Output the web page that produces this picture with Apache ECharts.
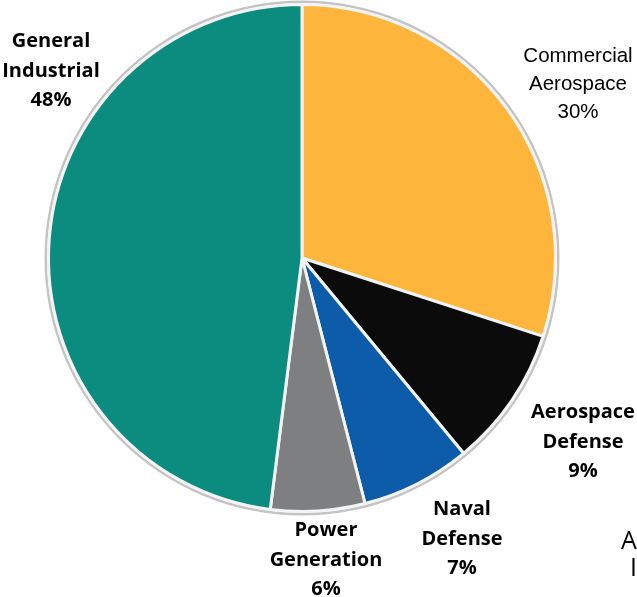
<!DOCTYPE html>
<html>
<head>
<meta charset="utf-8">
<script src="https://cdn.jsdelivr.net/npm/echarts@6/dist/echarts.min.js"></script>
<style>html,body{margin:0;padding:0;background:#fff;}#c{width:637px;height:597px;}</style>
</head>
<body>
<div id="c"></div>
<script>
// Data
var categories = ['Commercial\nAerospace', 'Aerospace\nDefense', 'Naval\nDefense', 'Power\nGeneration', 'General\nIndustrial'];
var shares = [30, 9, 7, 6, 48];
var colors = ['#FDB53B', '#0B0B0B', '#0C5CA9', '#7E7F80', '#0C8B7F'];
// label placement (style only)
var labelPos = [[578, 84], [583, 442], [462, 539], [326, 560], [51, 71]];

var chart = echarts.init(document.getElementById('c'), null, {renderer: 'canvas'});

var boldLabel = {fontFamily: 'Open Sans', fontWeight: 'bold', fontSize: 20, lineHeight: 29.5, color: '#000'};
var data = categories.map(function (n, i) {
  var lbl = i === 0
    ? {fontFamily: 'Liberation Sans, Arial', fontWeight: 'normal', fontSize: 20.5, lineHeight: 28, color: '#000'}
    : boldLabel;
  return {name: n, value: shares[i], itemStyle: {color: colors[i]}, label: lbl};
});

chart.setOption({
  animation: false,
  series: [
    {
      type: 'pie', silent: true, center: [302, 258], radius: [255, 257.5],
      label: {show: false}, labelLine: {show: false},
      data: [{value: 1, itemStyle: {color: '#c4c4c4'}}]
    },
    {
      type: 'pie',
      center: [302, 258],
      radius: 253.5,
      startAngle: 90,
      clockwise: true,
      avoidLabelOverlap: false,
      itemStyle: {borderColor: '#f4f4f4', borderWidth: 3},
      label: {show: true, position: 'outside', formatter: '{b}\n{c}%', align: 'center'},
      labelLine: {show: false},
      labelLayout: function (p) {
        return {x: labelPos[p.dataIndex][0], y: labelPos[p.dataIndex][1], align: 'center', verticalAlign: 'middle'};
      },
      data: data
    }
  ],
  graphic: [
    {type: 'text', left: 621, top: 529, style: {text: 'A', font: '25px "Open Sans"', fill: '#000'}},
    {type: 'text', left: 630, top: 556, style: {text: 'I', font: '25px "Open Sans"', fill: '#000'}}
  ]
});
</script>
</body>
</html>
